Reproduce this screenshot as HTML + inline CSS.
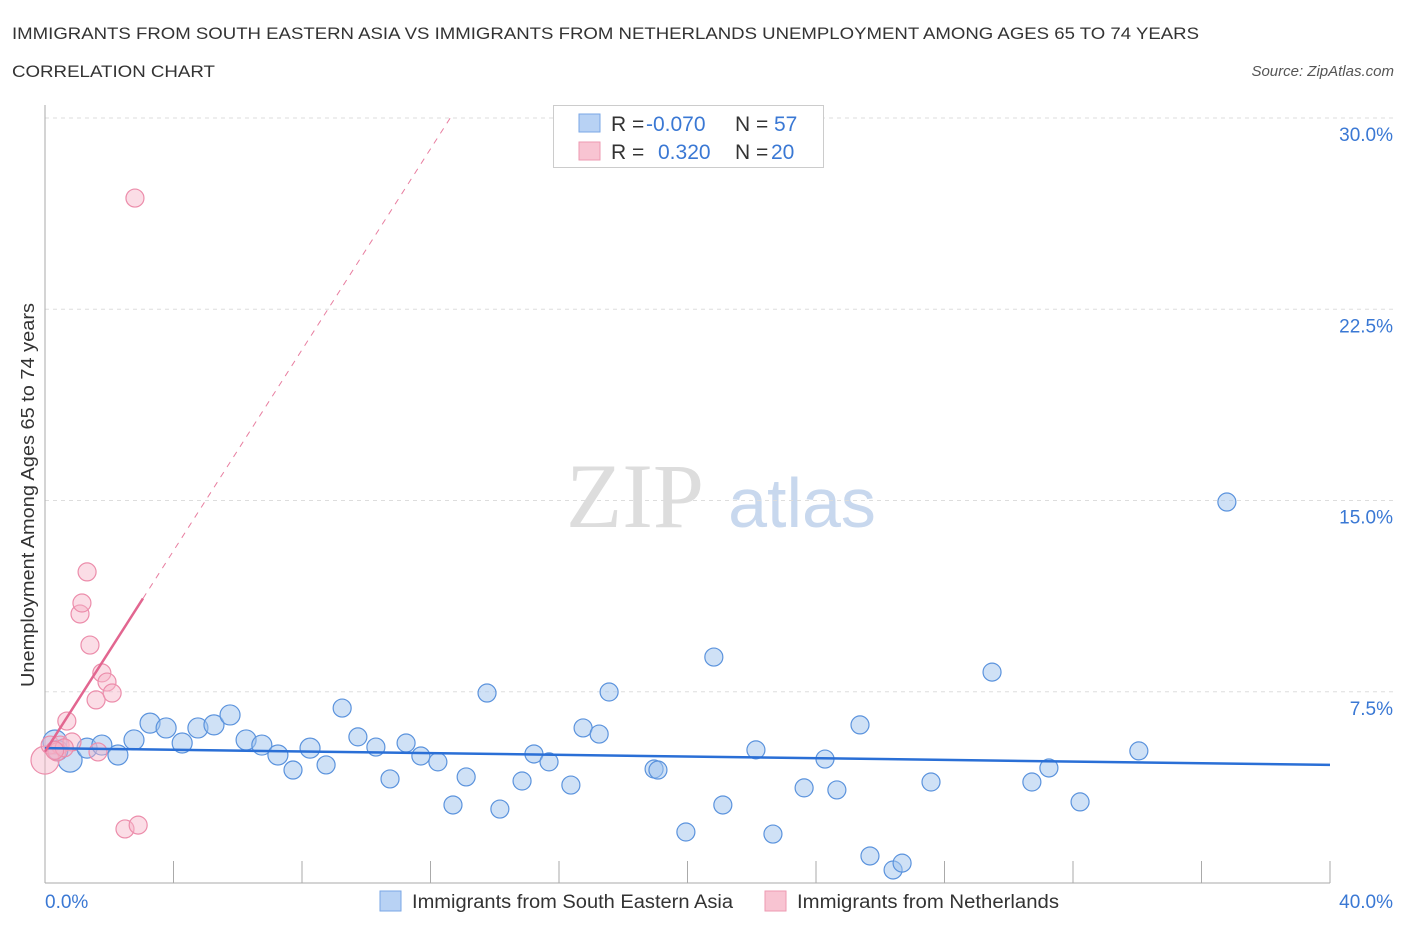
<!DOCTYPE html>
<html><head><meta charset="utf-8"><style>
body{margin:0;background:#fff;font-family:"Liberation Sans",sans-serif;}
</style></head><body>
<svg width="1406" height="930" xmlns="http://www.w3.org/2000/svg">
<text x="12" y="39" font-size="17" fill="#333" textLength="1187" lengthAdjust="spacingAndGlyphs">IMMIGRANTS FROM SOUTH EASTERN ASIA VS IMMIGRANTS FROM NETHERLANDS UNEMPLOYMENT AMONG AGES 65 TO 74 YEARS</text>
<text x="12" y="77" font-size="17" fill="#333" textLength="203" lengthAdjust="spacingAndGlyphs">CORRELATION CHART</text>
<text x="1394" y="76" font-size="15" fill="#555" font-style="italic" text-anchor="end">Source: ZipAtlas.com</text>
<g><text x="635" y="527" font-size="92" fill="#ddd" font-family="Liberation Serif,serif" text-anchor="middle">ZIP</text><text x="802" y="527" font-size="70" fill="#c8d8ee" text-anchor="middle">atlas</text></g>
<g id="grid"></g><g id="axes"></g><g id="pts"></g><g id="lines"></g>
<text transform="translate(34,495) rotate(-90)" font-size="18" fill="#333" text-anchor="middle" textLength="384" lengthAdjust="spacingAndGlyphs">Unemployment Among Ages 65 to 74 years</text>
<text x="45" y="908" font-size="19" fill="#3a78d4">0.0%</text>
<text x="1393" y="908" font-size="19" fill="#3a78d4" text-anchor="end">40.0%</text>
<g>
<rect x="553.5" y="105.5" width="270" height="62" fill="#fff" stroke="#ccc"/>
<rect x="579" y="114" width="21" height="18" fill="#b8d2f4" stroke="#7aa7e6"/>
<rect x="579" y="142" width="21" height="18" fill="#f8c4d2" stroke="#ee9ab2"/>
<text x="611" y="131" font-size="21" fill="#333">R = <tspan x="646" fill="#3a78d4">-0.070</tspan><tspan x="735">N = </tspan><tspan x="774" fill="#3a78d4">57</tspan></text>
<text x="611" y="159" font-size="21" fill="#333">R = <tspan x="658" fill="#3a78d4">0.320</tspan><tspan x="735">N = </tspan><tspan x="771" fill="#3a78d4">20</tspan></text>
</g>
<g>
<rect x="380" y="891" width="21" height="20" fill="#b8d2f4" stroke="#7aa7e6"/>
<text x="412" y="908" font-size="19" fill="#333" textLength="321" lengthAdjust="spacingAndGlyphs">Immigrants from South Eastern Asia</text>
<rect x="765" y="891" width="21" height="20" fill="#f8c4d2" stroke="#ee9ab2"/>
<text x="797" y="908" font-size="19" fill="#333" textLength="262" lengthAdjust="spacingAndGlyphs">Immigrants from Netherlands</text>
</g>
</svg>
<script>
const yTicks=[7.5,15,22.5,30];
const yTickLabels=["7.5%","15.0%","22.5%","30.0%"];
const blueX=[0.31,0.78,0.4,1.31,1.77,2.27,2.77,3.27,3.77,4.27,4.76,5.26,5.76,6.26,6.75,7.25,7.72,8.25,8.75,9.25,9.74,10.3,10.74,11.24,11.7,12.23,12.7,13.11,13.76,14.16,14.85,15.22,15.69,16.37,16.75,17.25,17.56,18.96,19.08,19.95,20.82,21.1,22.13,22.66,23.63,24.28,24.65,25.37,25.68,26.4,26.68,27.58,29.48,30.72,31.25,32.22,34.05,36.79];
const blueY=[5.53,4.82,5.2,5.29,5.41,5.02,5.61,6.27,6.08,5.49,6.08,6.2,6.59,5.61,5.41,5.02,4.43,5.29,4.63,6.86,5.73,5.33,4.08,5.49,4.98,4.75,3.06,4.16,7.45,2.9,4.0,5.06,4.75,3.84,6.08,5.84,7.49,4.47,4.43,2.0,8.86,3.06,5.22,1.92,3.73,4.86,3.65,6.2,1.06,0.51,0.78,3.96,8.27,3.96,4.51,3.18,5.18,14.94];
const blueR=[12,12,10,10,10,10,10,10,10,10,10,10,10,10,10,10,9,10,9,9,9,9,9,9,9,9,9,9,9,9,9,9,9,9,9,9,9,9,9,9,9,9,9,9,9,9,9,9,9,9,9,9,9,9,9,9,9,9];
const pinkX=[0,0.16,0.47,0.84,0.37,0.68,1.59,1.77,1.93,2.09,1.65,1.4,1.09,1.15,1.31,2.8,2.49,2.9,0.6,0.3];
const pinkY=[4.82,5.41,5.41,5.53,5.14,6.35,7.18,8.24,7.88,7.45,5.14,9.33,10.55,10.98,12.2,26.86,2.12,2.27,5.3,5.2];
const blueTrend=[5.29,4.63];
const pinkTrend=[5.15,1.97];
const X=v=>45+v/40*1285, Y=v=>883-v*25.5;
const NS="http://www.w3.org/2000/svg";
function mk(p,t,a){const e=document.createElementNS(NS,t);for(const k in a)e.setAttribute(k,a[k]);document.getElementById(p).appendChild(e);return e;}
yTicks.forEach((t,i)=>{
 const g=mk('grid','line',{x1:45,x2:1393,y1:Y(t),y2:Y(t),stroke:'#ddd','stroke-dasharray':'4,4'});
 
 
 const l=mk('grid','text',{x:1393,y:Y(t)+23,'font-size':19,fill:'#3a78d4','text-anchor':'end'});
 l.textContent=yTickLabels[i];
 
 
});
const ax=mk('axes','line',{x1:45,x2:45,y1:105,y2:883,stroke:'#aaa'});


const bx=mk('axes','line',{x1:45,x2:1330,y1:883,y2:883,stroke:'#aaa'});


for(let i=0;i<=10;i++){const t=mk('axes','line',{x1:X(i*4),x2:X(i*4),y1:861,y2:883,stroke:'#aaa'});
 
 }
blueX.forEach((x,i)=>{const c=mk('pts','circle',{cx:X(x),cy:Y(blueY[i]),r:blueR[i],fill:'rgba(160,196,238,0.5)',stroke:'#5b93dd','stroke-width':1.2});
 
 });
pinkX.forEach((x,i)=>{const c=mk('pts','circle',{cx:X(x),cy:Y(pinkY[i]),r:i==0?14:9,fill:'rgba(246,180,200,0.45)',stroke:'#ec8dab','stroke-width':1.2});
 
 });
const bl=mk('lines','line',{x1:X(0),y1:Y(blueTrend[0]),x2:X(40),y2:Y(blueTrend[1]),stroke:'#2a6fd6','stroke-width':2.5});


const xe=(30-pinkTrend[0])/pinkTrend[1];
const pd=mk('lines','line',{x1:X(3.05),y1:Y(pinkTrend[0]+pinkTrend[1]*3.05),x2:X(xe),y2:Y(30),stroke:'#e87ea0','stroke-width':1,'stroke-dasharray':'6,6'});


const pl=mk('lines','line',{x1:X(0),y1:Y(pinkTrend[0]),x2:X(3.05),y2:Y(pinkTrend[0]+pinkTrend[1]*3.05),stroke:'#e26690','stroke-width':2.5});


</script>
</body></html>
